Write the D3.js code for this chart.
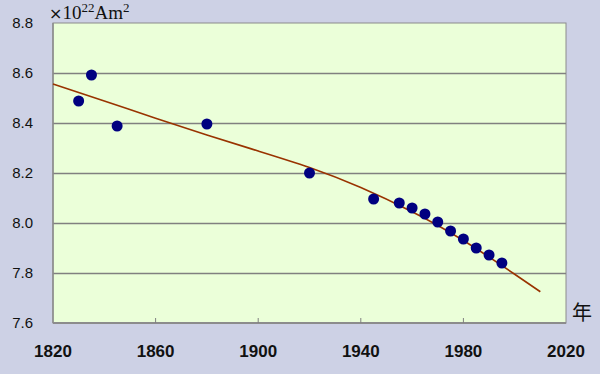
<!DOCTYPE html>
<html>
<head>
<meta charset="utf-8">
<script src="https://cdn.jsdelivr.net/npm/d3@7"></script>
<style>
  body { margin: 0; background: #cdd1e5; }
  svg { display: block; }
</style>
</head>
<body>
<div id="chart"></div>
<script>
// observed dipole moment (x10^22 Am^2)
const years = [1830, 1835, 1845, 1880, 1920, 1945, 1955, 1960, 1965, 1970, 1975, 1980, 1985, 1990, 1995];
const moments = [8.488, 8.592, 8.388, 8.396, 8.2, 8.096, 8.08, 8.06, 8.036, 8.004, 7.968, 7.936, 7.9, 7.872, 7.84];

// trend curve
const trendYears = [1820, 1840, 1860, 1880, 1900, 1920, 1940, 1960, 1980, 2000, 2010];
const trendValues = [8.556, 8.488, 8.419, 8.352, 8.288, 8.222, 8.142, 8.045, 7.93, 7.795, 7.725];

const xTicks = [1820, 1860, 1900, 1940, 1980, 2020];
const yTicks = [7.6, 7.8, 8.0, 8.2, 8.4, 8.6, 8.8];

const W = 600, H = 374;
const margin = {top: 23, right: 34, bottom: 51, left: 53};

const svg = d3.select("#chart").append("svg")
  .attr("width", W).attr("height", H);

svg.append("rect").attr("width", W).attr("height", H).attr("fill", "#cdd1e5");

const x = d3.scaleLinear().domain([1820, 2020]).range([margin.left, W - margin.right]);
const y = d3.scaleLinear().domain([7.6, 8.8]).range([H - margin.bottom, margin.top]);

// plot area
svg.append("rect")
  .attr("x", x(1820)).attr("y", y(8.8))
  .attr("width", x(2020) - x(1820)).attr("height", y(7.6) - y(8.8))
  .attr("fill", "#ebffd9")
  .attr("stroke", "#8c8c8c").attr("stroke-width", 1);

// gridlines
svg.append("g").selectAll("line")
  .data(yTicks.filter(d => d > 7.6 && d < 8.8))
  .join("line")
  .attr("x1", x(1820)).attr("x2", x(2020))
  .attr("y1", d => Math.round(y(d)) + 0.5).attr("y2", d => Math.round(y(d)) + 0.5)
  .attr("stroke", "#808080").attr("stroke-width", 1.5);

// bottom axis line + small ticks
svg.append("line")
  .attr("x1", x(1820)).attr("x2", x(2020))
  .attr("y1", y(7.6)).attr("y2", y(7.6))
  .attr("stroke", "#8c8c8c").attr("stroke-width", 2);
svg.append("line")
  .attr("x1", x(1820)).attr("x2", x(1820))
  .attr("y1", y(8.8)).attr("y2", y(7.6))
  .attr("stroke", "#8c8c8c").attr("stroke-width", 1.5);

svg.append("g").selectAll("line")
  .data(xTicks.slice(1, -1))
  .join("line")
  .attr("x1", d => x(d)).attr("x2", d => x(d))
  .attr("y1", y(7.6)).attr("y2", y(7.6) - 5)
  .attr("stroke", "#808080").attr("stroke-width", 1);

// tick labels
svg.append("g").selectAll("text")
  .data(xTicks)
  .join("text")
  .attr("x", d => x(d)).attr("y", H - 17)
  .attr("text-anchor", "middle")
  .attr("font-family", "Liberation Sans, Arial, sans-serif")
  .attr("font-size", 17).attr("font-weight", "bold")
  .attr("fill", "#111")
  .text(d => d);

svg.append("g").selectAll("text")
  .data(yTicks)
  .join("text")
  .attr("x", 33).attr("y", d => y(d) + 5)
  .attr("text-anchor", "end")
  .attr("font-family", "Liberation Sans, Arial, sans-serif")
  .attr("font-size", 15)
  .attr("fill", "#111")
  .text(d => d.toFixed(1));

// unit label
const unit = svg.append("text")
  .attr("x", 49).attr("y", 19)
  .attr("font-family", "Liberation Serif, Times New Roman, serif")
  .attr("font-size", 19).attr("fill", "#111");
unit.append("tspan").attr("font-family", "DejaVu Sans, sans-serif").attr("font-size", 16).text("×");
unit.append("tspan").text("10");
unit.append("tspan").attr("font-size", 13).attr("dy", -7).text("22");
unit.append("tspan").attr("dy", 7).text("Am");
unit.append("tspan").attr("font-size", 13).attr("dy", -7).text("2");

svg.append("text")
  .attr("x", 572).attr("y", 320)
  .attr("font-family", "Noto Sans CJK JP, sans-serif")
  .attr("font-size", 20).attr("fill", "#111")
  .text("年");

// trend curve
const line = d3.line()
  .x((d, i) => x(trendYears[i]))
  .y(d => y(d))
  .curve(d3.curveNatural);
svg.append("path")
  .datum(trendValues)
  .attr("d", line)
  .attr("fill", "none")
  .attr("stroke", "#993300").attr("stroke-width", 1.6);

// points
svg.append("g").selectAll("circle")
  .data(moments)
  .join("circle")
  .attr("cx", (d, i) => x(years[i]))
  .attr("cy", d => y(d))
  .attr("r", 5.5)
  .attr("fill", "#000080");
</script>
</body>
</html>
